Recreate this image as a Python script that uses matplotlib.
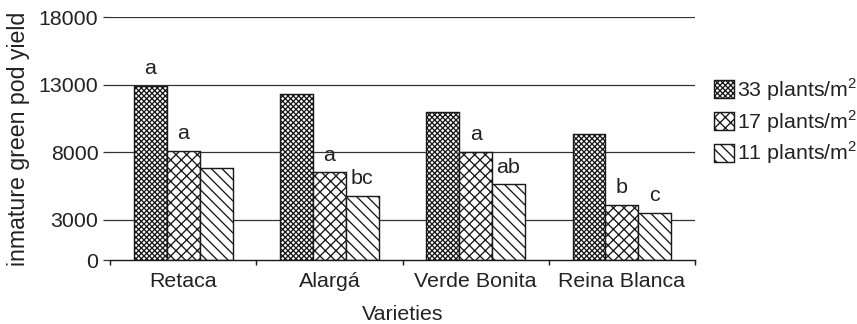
import matplotlib
matplotlib.use('Agg')
import matplotlib.pyplot as plt
import numpy as np

# #### Data
varieties = ['Retaca', 'Alargá', 'Verde Bonita', 'Reina Blanca']
yield_33 = [12900, 12300, 11000, 9300]
yield_17 = [8100, 6500, 8000, 4100]
yield_11 = [6800, 4750, 5600, 3500]
letters_33 = ['a', '', '', '']
letters_17 = ['a', 'a', 'a', 'b']
letters_11 = ['', 'bc', 'ab', 'c']
series_names = ['33 plants/m$^2$', '17 plants/m$^2$', '11 plants/m$^2$']
yticks = [0, 3000, 8000, 13000, 18000]

plt.rcParams['font.family'] = ['Liberation Sans', 'DejaVu Sans']
plt.rcParams['mathtext.fontset'] = 'custom'
plt.rcParams['mathtext.rm'] = 'Liberation Sans'
plt.rcParams['hatch.linewidth'] = 1.5
plt.rcParams['hatch.color'] = '#1a1a1a'

fs = 24
txt = '#222222'

fig = plt.figure(figsize=(857/64, 324/64), dpi=64)
ax = fig.add_axes([0.1284, 0.1975, 0.811 - 0.1284, 0.9475 - 0.1975])

x = np.arange(len(varieties))
w = 0.225
series = [yield_33, yield_17, yield_11]
letters = [letters_33, letters_17, letters_11]
hatches = ['xxxx', 'xx', '\\\\']

for i, (vals, hatch, name, labs) in enumerate(zip(series, hatches, series_names, letters)):
    pos = x + (i - 1)*w
    ax.bar(pos, vals, w, color='white', edgecolor='#1a1a1a', linewidth=1.6,
           hatch=hatch, label=name, zorder=3)
    # significance letters above the bars
    for px, v, lab in zip(pos, vals, labs):
        if lab:
            ax.annotate(lab, (px, v), xytext=(0, 13), textcoords='offset points',
                        ha='center', va='baseline', fontsize=fs, color=txt)

# gridlines as in the original
for t in yticks[1:]:
    ax.axhline(t, color='#333333', linewidth=1.4, zorder=1)

ax.set_xlim(-0.5, 3.5)
ax.set_ylim(0, 18000)
ax.set_yticks(yticks)
ax.set_xticks(x)
ax.set_xticklabels(varieties)
ax.set_xticks(np.arange(-0.5, 4.0, 1.0), minor=True)
ax.tick_params(axis='x', which='major', length=0, pad=14, labelsize=fs, labelcolor=txt)
ax.tick_params(axis='x', which='minor', length=6, width=1.6, direction='out', color='#1a1a1a')
ax.tick_params(axis='y', length=8, width=1.4, pad=5, labelsize=fs, labelcolor=txt, color='#333333')

for s in ['top', 'right', 'left']:
    ax.spines[s].set_visible(False)
ax.spines['bottom'].set_linewidth(1.6)
ax.spines['bottom'].set_color('#1a1a1a')
ax.spines['bottom'].set_zorder(4)

ax.set_xlabel('Varieties', fontsize=fs, color=txt, labelpad=15)
ax.set_ylabel('inmature green pod yield', fontsize=26, color=txt, labelpad=10)

ax.legend(loc='upper left', bbox_to_anchor=(714/857, 1 - 76/324), bbox_transform=fig.transFigure,
          frameon=False, fontsize=fs, handlelength=0.94, handleheight=0.88,
          handletextpad=0.15, labelspacing=0.25, borderpad=0, borderaxespad=0,
          labelcolor=txt)

plt.savefig('out.png', dpi=64)
